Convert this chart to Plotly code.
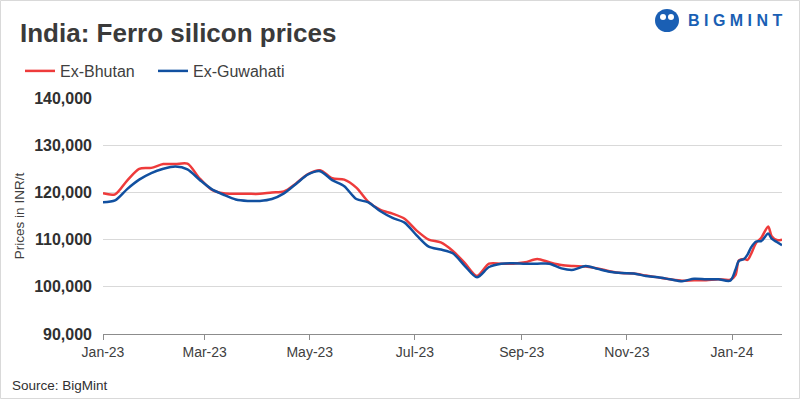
import pandas as pd
import plotly.graph_objects as go

# Weekly dates through Dec-23, then denser points in Jan-24
weekly_dates = list(pd.date_range("2023-01-01", "2023-12-24", freq="7D").strftime("%Y-%m-%d"))
late_dates = ["2023-12-31", "2024-01-03", "2024-01-05", "2024-01-08", "2024-01-10", "2024-01-12",
              "2024-01-15", "2024-01-18", "2024-01-22", "2024-01-24", "2024-01-27", "2024-01-30"]
dates = weekly_dates + late_dates

ex_bhutan = [119800, 119600, 122500, 125000, 125200, 126000, 126000, 126100, 123000, 120600,
             119800, 119700, 119700, 119700, 120000, 120200, 121900, 123900, 124700, 123000,
             122700, 121000, 118000, 116300, 115500, 114400, 111900, 110000, 109400, 107600,
             105000, 102300, 104900, 104900, 104900, 105200, 105900, 105200, 104600, 104400,
             104300, 103900, 103300, 102900, 102800, 102400, 102000, 101600, 101300, 101400,
             101400, 101600,
             101500, 102500, 105600, 105900, 105700, 106900, 109300, 110400, 112800, 110700,
             109900, 110000]

ex_guwahati = [117900, 118300, 120700, 122700, 124100, 125000, 125500, 124900, 122700, 120700,
               119500, 118500, 118200, 118200, 118600, 119800, 121800, 123800, 124500, 122600,
               121300, 118600, 117900, 116000, 114600, 113600, 110900, 108500, 107900, 107100,
               104400, 102000, 104200, 104900, 105000, 104900, 104900, 104900, 103900, 103600,
               104400, 103800, 103200, 102900, 102800, 102300, 102000, 101600, 101200, 101700,
               101600, 101600,
               101300, 103600, 105500, 105900, 106800, 108300, 109600, 109700, 111300, 110200,
               109500, 108800]

y_ticks = [90000, 100000, 110000, 120000, 130000, 140000]

RED = "#EE3B3B"
BLUE = "#1150A0"
TXT = "#404040"

fig = go.Figure()
fig.add_trace(go.Scatter(x=dates, y=ex_bhutan, name="Ex-Bhutan", mode="lines",
                         line=dict(color=RED, width=2.5, shape="spline", smoothing=0.8)))
fig.add_trace(go.Scatter(x=dates, y=ex_guwahati, name="Ex-Guwahati", mode="lines",
                         line=dict(color=BLUE, width=2.5, shape="spline", smoothing=0.8)))

L, R, T, B = 103, 18, 98, 65
W, H = 800, 399
pw, ph = W - L - R, H - T - B

def px(x):
    return (x - L) / pw

def py(y):
    return (H - B - y) / ph

fig.update_layout(
    width=W, height=H,
    margin=dict(l=L, r=R, t=T, b=B),
    paper_bgcolor="white", plot_bgcolor="white",
    font=dict(family="Liberation Sans, Arial, sans-serif", color=TXT),
    showlegend=True,
    legend=dict(orientation="h", x=px(20), y=py(71), xanchor="left", yanchor="middle",
                font=dict(size=16, color=TXT), itemwidth=30, tracegroupgap=0,
                entrywidth=88, entrywidthmode="pixels",
                bgcolor="rgba(0,0,0,0)"),
    xaxis=dict(type="date", range=["2023-01-01", "2024-01-30"],
               tick0="2023-01-01", dtick="M2", tickformat="%b-%y",
               showgrid=False, showline=True, linecolor="#8c8c8c", linewidth=1,
               ticks="outside", ticklen=5, tickcolor="#8c8c8c",
               tickfont=dict(family="Liberation Sans Narrow, Arial Narrow, Liberation Sans, sans-serif",
                             size=14, color=TXT)),
    yaxis=dict(range=[90000, 140000], tickvals=y_ticks,
               ticktext=[f"<b>{v:,}</b>" for v in y_ticks],
               showgrid=True, gridcolor="#d9d9d9", gridwidth=1, zeroline=False,
               ticks="", ticklabelstandoff=10,
               tickfont=dict(family="Liberation Sans, Arial, sans-serif", size=16, color="#303030"),
               title=dict(text="Prices in INR/t", font=dict(size=13.5, color=TXT), standoff=6)),
    annotations=[
        dict(text="<b>India: Ferro silicon prices</b>", xref="paper", yref="paper",
             x=px(18), y=py(33), xanchor="left", yanchor="middle", showarrow=False,
             font=dict(size=26, color="#3a3a3a", family="Liberation Sans, Arial, sans-serif")),
        dict(text="Source: BigMint", xref="paper", yref="paper",
             x=px(10), y=py(385), xanchor="left", yanchor="middle", showarrow=False,
             font=dict(size=13.5, color="#303030",
                       family="Liberation Sans Narrow, Arial Narrow, Liberation Sans, sans-serif")),
        dict(text="<b>B I G M I N T</b>", xref="paper", yref="paper",
             x=px(686), y=py(20), xanchor="left", yanchor="middle", showarrow=False,
             font=dict(size=16, color="#1a5fb4", family="Liberation Sans, Arial, sans-serif")),
    ],
    shapes=[
        dict(type="rect", xref="paper", yref="paper", x0=px(0.5), x1=px(799.5), y0=py(398.5), y1=py(0.5),
             line=dict(color="#d9d9d9", width=1), fillcolor="rgba(0,0,0,0)", layer="below"),
        dict(type="circle", xref="paper", yref="paper", x0=px(655), x1=px(679), y0=py(32), y1=py(9),
             line=dict(color="#1a5fb4", width=0), fillcolor="#1a5fb4"),
        dict(type="circle", xref="paper", yref="paper", x0=px(660), x1=px(666), y0=py(20), y1=py(14),
             line=dict(width=0), fillcolor="white"),
        dict(type="circle", xref="paper", yref="paper", x0=px(668), x1=px(674), y0=py(20), y1=py(14),
             line=dict(width=0), fillcolor="white"),
    ],
)

fig.write_html("out.html", config={"displayModeBar": False},
               post_script="document.body.style.margin='0px';")
